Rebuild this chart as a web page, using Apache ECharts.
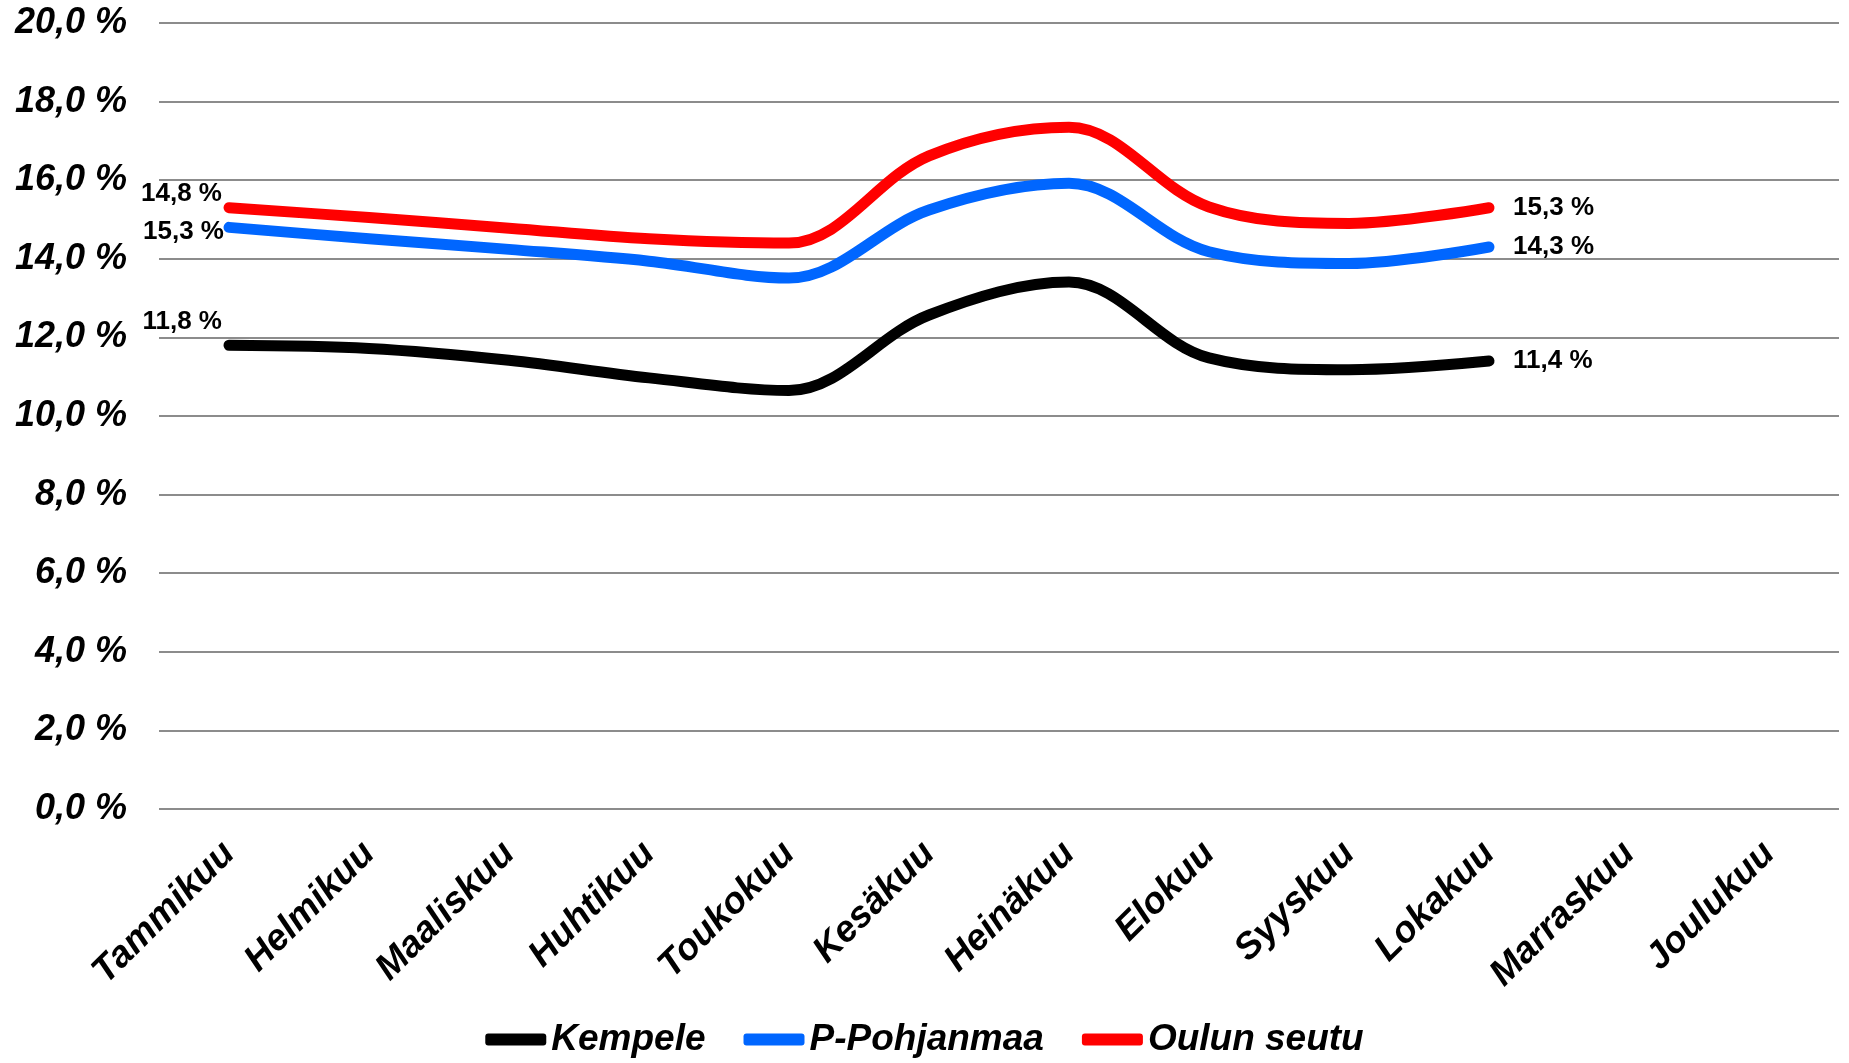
<!DOCTYPE html>
<html>
<head>
<meta charset="utf-8">
<script src="https://cdn.jsdelivr.net/npm/echarts@6/dist/echarts.min.js"></script>
<style>
html,body{margin:0;padding:0;background:#fff;}
#chart{width:1849px;height:1063px;}
</style>
</head>
<body>
<div id="chart"></div>
<script>
const categories = ['Tammikuu','Helmikuu','Maaliskuu','Huhtikuu','Toukokuu','Kesäkuu','Heinäkuu','Elokuu','Syyskuu','Lokakuu','Marraskuu','Joulukuu'];
const kempele = [11.8, 11.72, 11.42, 10.97, 10.65, 12.57, 13.41, 11.48, 11.18, 11.4, null, null];
const pohjanmaa = [14.8, 14.51, 14.24, 13.94, 13.51, 15.24, 15.92, 14.18, 13.88, 14.3, null, null];
const oulunSeutu = [15.3, 15.05, 14.78, 14.51, 14.4, 16.62, 17.35, 15.32, 14.9, 15.3, null, null];
const seriesNames = ['Kempele', 'P-Pohjanmaa', 'Oulun seutu'];
const yTicks = {min: 0, max: 20, interval: 2};

const FONT = '"Liberation Sans", Arial, sans-serif';
const fmt = v => v.toFixed(1).replace('.', ',') + ' %';

function withLabels(arr, firstLabel, lastLabel) {
  const last = arr.filter(x => x != null).length - 1;
  return arr.map((v, i) => {
    if (v == null) return null;
    if (i === 0) return {value: v, label: Object.assign({show: true}, firstLabel)};
    if (i === last) return {value: v, label: Object.assign({show: true}, lastLabel)};
    return v;
  });
}
const rightLbl = {position: 'right', distance: 24};

const labelStyle = {
  color: '#000', fontFamily: FONT, fontWeight: 'bold', fontSize: 26,
  formatter: p => fmt(p.value)
};

function mkSeries(name, data, color) {
  return {
    name: name, type: 'line', data: data, smooth: 0.35,
    symbol: 'circle', symbolSize: 0.1, showAllSymbol: true,
    color: color,
    itemStyle: {color: color},
    lineStyle: {color: color, width: 11, cap: 'round', join: 'round'},
    label: Object.assign({show: false}, labelStyle),
    emphasis: {disabled: true},
    connectNulls: false
  };
}

const chart = echarts.init(document.getElementById('chart'), null, {renderer: 'canvas'});
chart.setOption({
  animation: false,
  backgroundColor: '#fff',
  grid: {left: 159, right: 10, top: 23, bottom: 254, containLabel: false},
  legend: {
    bottom: 0, left: 'center',
    itemWidth: 61, itemHeight: 12, itemGap: 38,
    icon: 'roundRect',
    textStyle: {fontFamily: FONT, fontWeight: 'bold', fontStyle: 'italic', fontSize: 37, color: '#000'},
    data: seriesNames
  },
  xAxis: {
    type: 'category', data: categories, boundaryGap: true,
    axisLine: {show: false}, axisTick: {show: false},
    axisLabel: {
      interval: 0, rotate: 45, margin: 39,
      fontFamily: FONT, fontWeight: 'bold', fontStyle: 'italic', fontSize: 37, color: '#000'
    }
  },
  yAxis: {
    type: 'value', min: yTicks.min, max: yTicks.max, interval: yTicks.interval,
    axisLine: {show: false}, axisTick: {show: false},
    splitLine: {lineStyle: {color: '#8c8c8c', width: 2}},
    axisLabel: {
      margin: 32, formatter: v => fmt(v),
      fontFamily: FONT, fontWeight: 'bold', fontStyle: 'italic', fontSize: 36, color: '#000'
    }
  },
  series: [
    mkSeries(seriesNames[0], withLabels(kempele, {position: 'left', distance: 7, offset: [0, -23]}, rightLbl), '#000000'),
    mkSeries(seriesNames[1], withLabels(pohjanmaa, {position: 'left', distance: 7, offset: [0, -34]}, rightLbl), '#0066ff'),
    mkSeries(seriesNames[2], withLabels(oulunSeutu, {position: 'left', distance: 5, offset: [0, 24]}, rightLbl), '#ff0000')
  ]
});
</script>
</body>
</html>
